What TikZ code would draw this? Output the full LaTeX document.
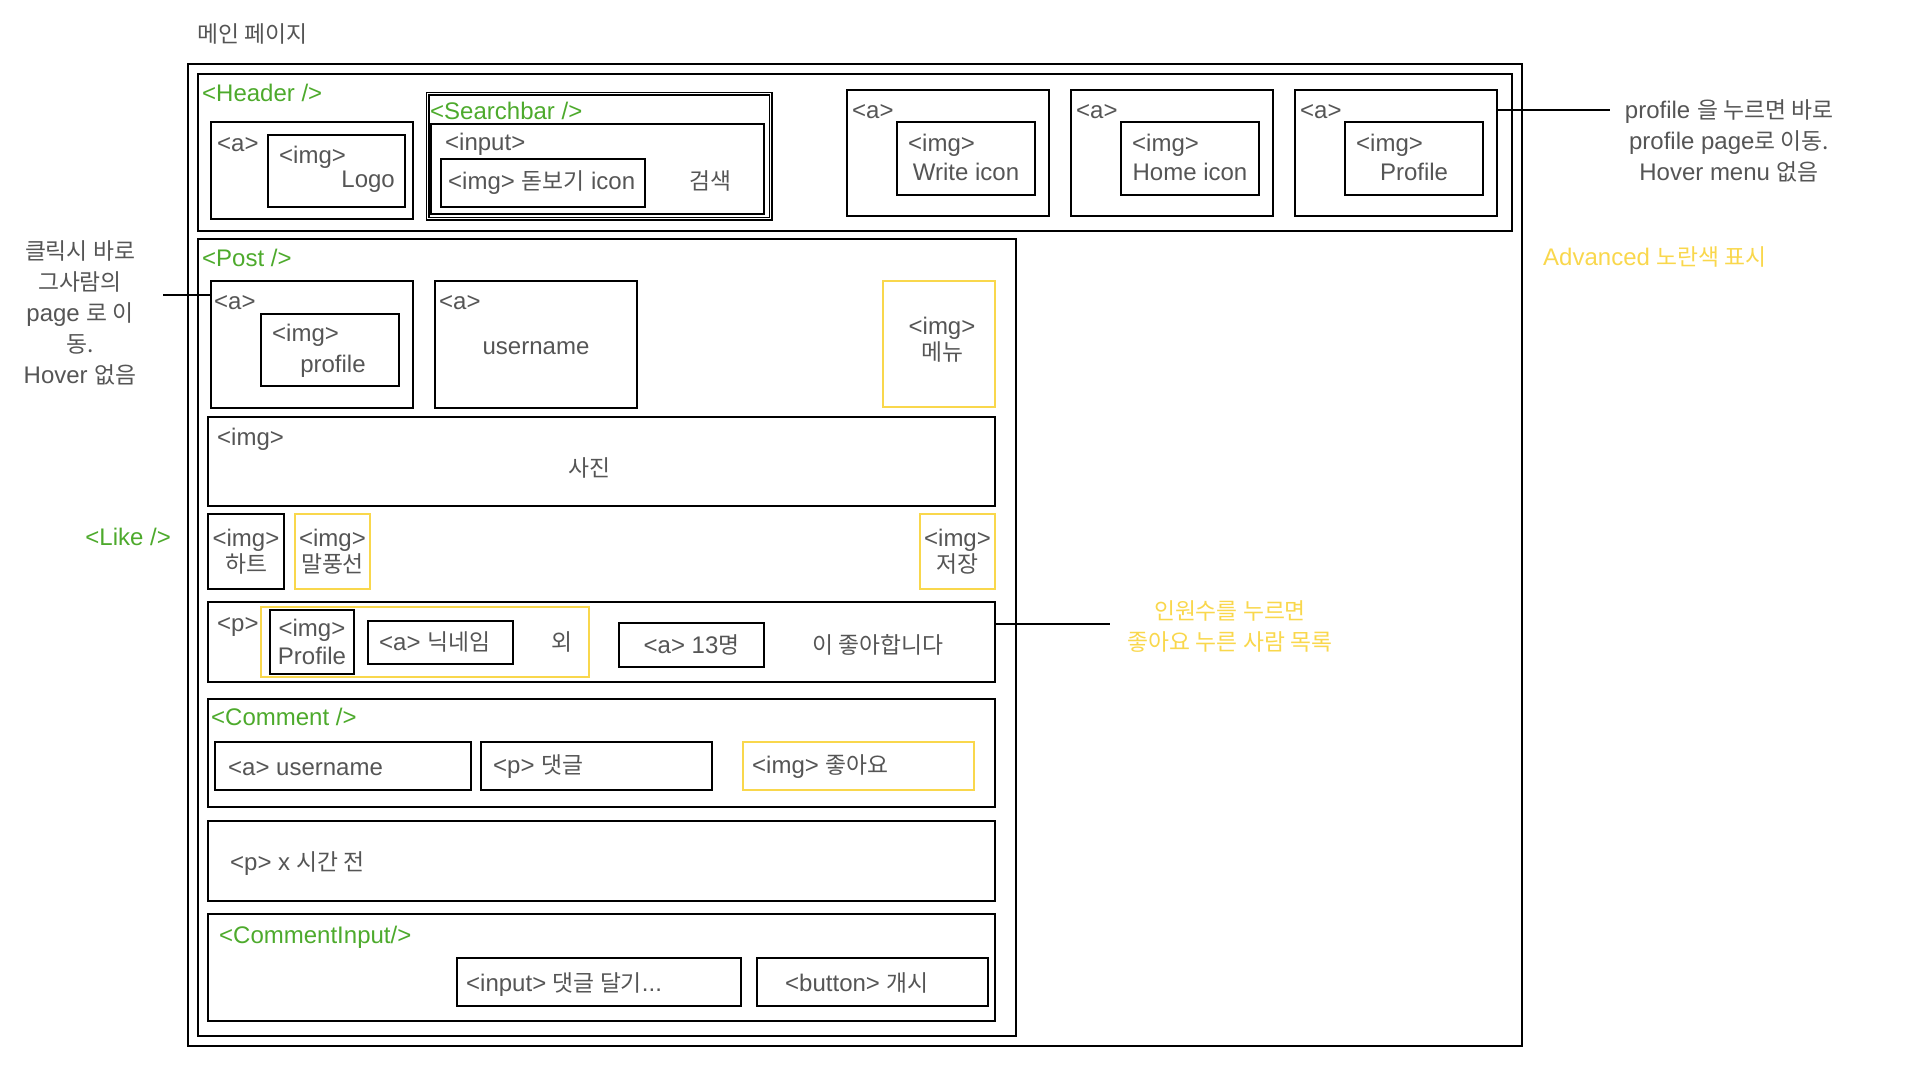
\documentclass[tikz,border=0pt]{standalone}
\usepackage{fontspec}
\setmainfont{Liberation Sans}
\newfontfamily\kr[Scale=0.95]{Noto Sans CJK KR}
\usetikzlibrary{fit}
\definecolor{txtgray}{RGB}{85,85,85}
\definecolor{taggreen}{RGB}{77,170,44}
\definecolor{advyellow}{RGB}{249,215,76}

\begin{document}
\begin{tikzpicture}[x=1pt, y=-1pt,
  box/.style={draw=black, line width=2pt, inner sep=0pt},
  ybox/.style={draw=advyellow, line width=1.8pt, inner sep=0pt},
  txt/.style={text=txtgray, inner sep=0pt, align=center, font=\fontsize{24}{26}\selectfont},
  tag/.style={txt, text=taggreen},
  note/.style={txt, font=\fontsize{24}{31}\selectfont},
  lw/.style={anchor=mid west, yshift=-6pt},
  lc/.style={anchor=mid, yshift=-6pt},
  le/.style={anchor=mid east, yshift=-6pt},
  link/.style={draw=black, line width=1.8pt},
]
\useasboundingbox (0,0) rectangle (1920,1080);

% Page frame and header
\node[txt, lw] (title) at (197,34) {\kr 메인 페이지};
\node[box, line width=1.8pt, fit={(188,64) (1522,1046)}] (page) {};
\node[box, fit={(198,74) (1512,231)}] (header) {};
\node[tag, lw] (headerTag) at (202,93) {<Header />};

\node[box, fit={(211,122) (413,219)}] (logoA) {};
\node[txt, lw] (logoATxt) at (217,143) {<a>};
\node[box, fit={(268,135) (405,207)}] (logoImg) {};
\node[txt, lw] (logoImgTxt) at (279,155) {<img>};
\node[txt, le] (logoTxt) at (395,179) {Logo};

% Searchbar
\node[draw=black, line width=1.1pt, double, double distance=1.8pt, inner sep=0pt, fit={(427.5,93.5) (770.5,218.5)}] (search) {};
\node[tag, lw] (searchTag) at (430,111) {<Searchbar />};
\node[box, fit={(431,124) (764,214)}] (input) {};
\node[txt, lw] (inputTxt) at (445,142) {<input>};
\node[box, fit={(441,159) (645,207)}] (lens) {};
\node[txt, lw] (lensTxt) at (448,181) {<img> {\kr 돋보기} icon};
\node[txt, lc] (searchTxt) at (710,181) {\kr 검색};

% Navigation links
\foreach \x/\name/\lab in {847/write/Write icon, 1071/home/Home icon, 1295/prof/Profile} {
  \node[box, fit={(\x,90) ({\x+202},216)}] (nav\name) {};
  \node[txt, lw] (nav\name A) at ({\x+5},110) {<a>};
  \node[box, fit={({\x+50},122) ({\x+188},195)}] (nav\name Img) {};
  \node[txt, lw] (nav\name ImgTxt) at ({\x+61},143) {<img>};
  \node[txt, lc] (nav\name Lab) at ({\x+119},172) {\lab};
}

\node[note] (profNote) at (1729,141) {profile {\kr 을 누르면 바로}\\profile page{\kr 로 이동.}\\Hover menu {\kr 없음}};
\coordinate (profNoteEnd) at (1610,110);
\draw[link] (navprof.east |- profNoteEnd) -- (profNoteEnd);

\node[txt, text=advyellow, lw] (advNote) at (1543,257) {Advanced {\kr 노란색 표시}};

% Post
\node[box, fit={(198,239) (1016,1036)}] (post) {};
\node[tag, lw] (postTag) at (202,258) {<Post />};
\node[box, fit={(211,281) (413,408)}] (postA) {};
\node[txt, lw] (postATxt) at (214,301) {<a>};
\node[box, fit={(261,314) (399,386)}] (postImg) {};
\node[txt, lw] (postImgTxt) at (272,333) {<img>};
\node[txt, lc] (postImgLab) at (333,364) {profile};
\node[box, fit={(435,281) (637,408)}] (userA) {};
\node[txt, lw] (userATxt) at (439,301) {<a>};
\node[txt, lc] (userLab) at (536,346) {username};
\node[ybox, fit={(883,281) (995,407)}] (menu) {};
\node[txt] (menuTxt) at (942,340) {<img>\\{\kr 메뉴}};

\node[note] (clickNote) at (80,313) {{\kr 클릭시 바로}\\{\kr 그사람의}\\page {\kr 로 이}\\{\kr 동.}\\Hover {\kr 없음}};
\coordinate (clickNoteEnd) at (163,295);
\draw[link] (clickNoteEnd) -- (clickNoteEnd -| postA.west);

\node[box, fit={(208,417) (995,506)}] (photo) {};
\node[txt, lw] (photoTxt) at (217,437) {<img>};
\node[txt, lc] (photoLab) at (589,468) {\kr 사진};

% Like
\node[tag, le] (likeTag) at (171,537) {<Like />};
\node[box, fit={(208,514) (284,589)}] (heart) {};
\node[txt] (heartTxt) at (heart.center) {<img>\\{\kr 하트}};
\node[ybox, fit={(295,514) (370,589)}] (bubble) {};
\node[txt] (bubbleTxt) at (bubble.center) {<img>\\{\kr 말풍선}};
\node[ybox, fit={(920,514) (995,589)}] (save) {};
\node[txt] (saveTxt) at (save.center) {<img>\\{\kr 저장}};

\node[box, fit={(208,602) (995,682)}] (likeRow) {};
\node[txt, lw] (likeRowTxt) at (217,623) {<p>};
\node[ybox, fit={(261,607) (589,677)}] (likers) {};
\node[box, fit={(270,610) (354,674)}] (likerImg) {};
\node[txt, font=\fontsize{24}{28}\selectfont] (likerImgTxt) at (likerImg.center) {<img>\\Profile};
\node[box, fit={(368,621) (513,664)}] (nick) {};
\node[txt, lw] (nickTxt) at (379,642) {<a> {\kr 닉네임}};
\node[txt, lc] (othersTxt) at (562,642) {\kr 외};
\node[box, fit={(619,623) (764,667)}] (count) {};
\node[txt, lc] (countTxt) at (count.center) {<a> 13{\kr 명}};
\node[txt, lc] (likesTxt) at (878,645) {\kr 이 좋아합니다};

\node[note, text=advyellow] (likeNote) at (1230,627) {{\kr 인원수를 누르면}\\{\kr 좋아요 누른 사람 목록}};
\coordinate (likeNoteEnd) at (1110,624);
\draw[link] (likeRow.east |- likeNoteEnd) -- (likeNoteEnd);

% Comment
\node[box, fit={(208,699) (995,807)}] (comment) {};
\node[tag, lw] (commentTag) at (211,717) {<Comment />};
\node[box, fit={(215,742) (471,790)}] (cmtUser) {};
\node[txt, lw] (cmtUserTxt) at (228,767) {<a> username};
\node[box, fit={(481,742) (712,790)}] (cmtText) {};
\node[txt, lw] (cmtTextTxt) at (493,765) {<p> {\kr 댓글}};
\node[ybox, fit={(743,742) (974,790)}] (cmtLike) {};
\node[txt, lw] (cmtLikeTxt) at (752,765) {<img> {\kr 좋아요}};

\node[box, fit={(208,821) (995,901)}] (time) {};
\node[txt, lw] (timeTxt) at (230,862) {<p> x {\kr 시간 전}};

% CommentInput
\node[box, fit={(208,914) (995,1021)}] (cmtInput) {};
\node[tag, lw] (cmtInputTag) at (219,935) {<CommentInput/>};
\node[box, fit={(457,958) (741,1006)}] (inputField) {};
\node[txt, lw] (inputFieldTxt) at (466,983) {<input> {\kr 댓글 달기}...};
\node[box, fit={(757,958) (988,1006)}] (postBtn) {};
\node[txt, lw] (postBtnTxt) at (785,983) {<button> {\kr 개시}};

\end{tikzpicture}
\end{document}
